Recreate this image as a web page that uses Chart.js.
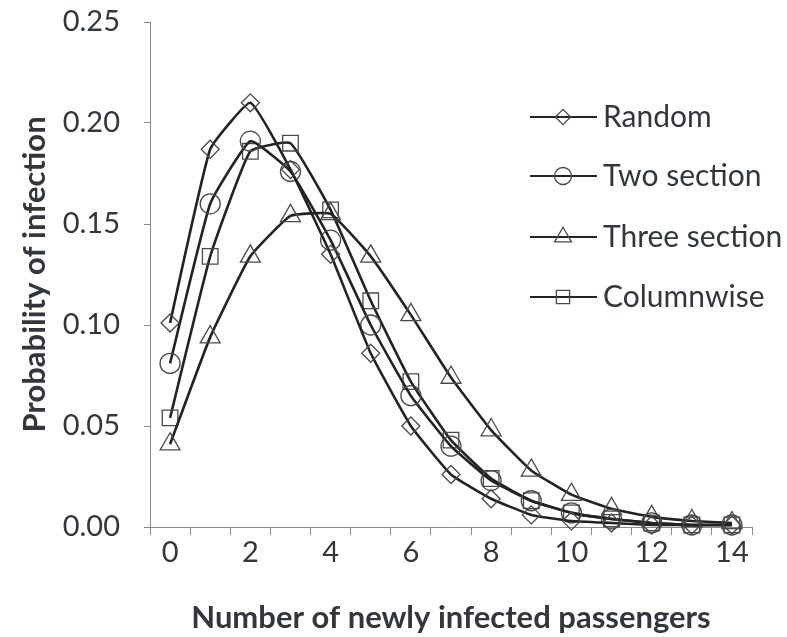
<!DOCTYPE html>
<html>
<head>
<meta charset="utf-8">
<script src="https://cdn.jsdelivr.net/npm/chart.js@4.4.1/dist/chart.umd.min.js"></script>
<style>
  html, body { margin: 0; padding: 0; background: #fff; }
  #wrap { width: 787px; height: 637px; position: relative; }
</style>
</head>
<body>
<div id="wrap"><canvas id="c" width="787" height="637"></canvas></div>
<script>
const categories = ['0','1','2','3','4','5','6','7','8','9','10','11','12','13','14'];
const seriesNames = ['Random', 'Two section', 'Three section', 'Columnwise'];
const randomVals   = [0.101, 0.187, 0.210, 0.177, 0.135, 0.086, 0.050, 0.026, 0.014, 0.006, 0.003, 0.002, 0.001, 0.001, 0.001];
const twoSection   = [0.081, 0.160, 0.191, 0.176, 0.142, 0.100, 0.065, 0.040, 0.023, 0.013, 0.007, 0.004, 0.002, 0.001, 0.001];
const threeSection = [0.041, 0.094, 0.134, 0.154, 0.155, 0.134, 0.105, 0.074, 0.048, 0.028, 0.016, 0.009, 0.005, 0.003, 0.002];
const columnwise   = [0.054, 0.134, 0.186, 0.190, 0.157, 0.112, 0.072, 0.043, 0.024, 0.013, 0.007, 0.004, 0.002, 0.001, 0.001];
const yTicks = [0, 0.05, 0.10, 0.15, 0.20, 0.25];

const FONT = 'Lato, "Open Sans", sans-serif';
const TEXT = '#33373d';
const LINE = '#232323';
const MARK = '#4a4a4a';

const styles = ['rectRot', 'circle', 'triangle', 'rect'];
const radii  = [9, 10, 11.5, 11];
const values = [randomVals, twoSection, threeSection, columnwise];

const datasets = seriesNames.map((name, i) => ({
  label: name,
  data: values[i],
  borderColor: LINE,
  borderWidth: 2.6,
  tension: 0.12,
  pointStyle: styles[i],
  pointRadius: radii[i],
  pointBorderWidth: 1.3,
  pointBorderColor: MARK,
  pointBackgroundColor: 'rgba(0,0,0,0)',
  fill: false,
  clip: false
}));

const legendPlugin = {
  id: 'insideLegend',
  afterDraw(chart) {
    const ctx = chart.ctx;
    const ys = [117, 176, 237, 297];
    ctx.save();
    chart.data.datasets.forEach((ds, i) => {
      const y = ys[i];
      ctx.strokeStyle = LINE;
      ctx.lineWidth = 2.2;
      ctx.beginPath();
      ctx.moveTo(530, y);
      ctx.lineTo(597, y);
      ctx.stroke();
      ctx.strokeStyle = MARK;
      ctx.lineWidth = 1.3;
      ctx.fillStyle = 'rgba(0,0,0,0)';
      Chart.helpers.drawPoint(ctx, {
        pointStyle: ds.pointStyle,
        radius: ds.pointRadius * 0.85,
        rotation: 0,
        borderWidth: 1.3
      }, 563, y);
      ctx.fillStyle = TEXT;
      ctx.font = '30px ' + FONT;
      ctx.textAlign = 'left';
      ctx.textBaseline = 'middle';
      ctx.fillText(ds.label, 603, y);
    });
    ctx.restore();
  }
};

new Chart(document.getElementById('c'), {
  type: 'line',
  data: { labels: categories, datasets },
  plugins: [legendPlugin],
  options: {
    responsive: false,
    animation: false,
    devicePixelRatio: 1,
    layout: { autoPadding: false, padding: { left: 16, right: 35, top: 22, bottom: 0 } },
    plugins: { legend: { display: false }, tooltip: { enabled: false } },
    scales: {
      x: {
        type: 'category',
        offset: true,
        grid: { display: true, offset: true, drawOnChartArea: false, drawTicks: true, tickLength: 8, color: '#8a8a8a', lineWidth: 1 },
        border: { display: true, color: '#8a8a8a', width: 1 },
        ticks: {
          autoSkip: false,
          maxRotation: 0,
          padding: 0,
          color: TEXT,
          font: { family: FONT, size: 29 },
          callback: function(v, i) { return i % 2 === 0 ? this.getLabelForValue(v) : ''; }
        },
        title: { display: true, text: 'Number of newly infected passengers', color: TEXT, font: { family: FONT, size: 31, weight: 'bold' }, padding: 0 },
        afterFit(scale) { scale.height = 110; scale.paddingLeft = 0; scale.paddingRight = 0; }
      },
      y: {
        min: 0, max: 0.25,
        afterBuildTicks(scale) { scale.ticks = yTicks.map(v => ({ value: v })); },
        grid: { display: true, drawOnChartArea: false, drawTicks: true, tickLength: 6, color: '#8a8a8a', lineWidth: 1 },
        border: { display: true, color: '#8a8a8a', width: 1 },
        ticks: {
          padding: 24,
          color: TEXT,
          font: { family: FONT, size: 29 },
          callback: v => v.toFixed(2)
        },
        title: { display: true, text: 'Probability of infection', color: TEXT, font: { family: FONT, size: 31, weight: 'bold' }, padding: 0 },
        afterFit(scale) { scale.width = 134; scale.paddingTop = 0; scale.paddingBottom = 0; }
      }
    }
  }
});
</script>
</body>
</html>
